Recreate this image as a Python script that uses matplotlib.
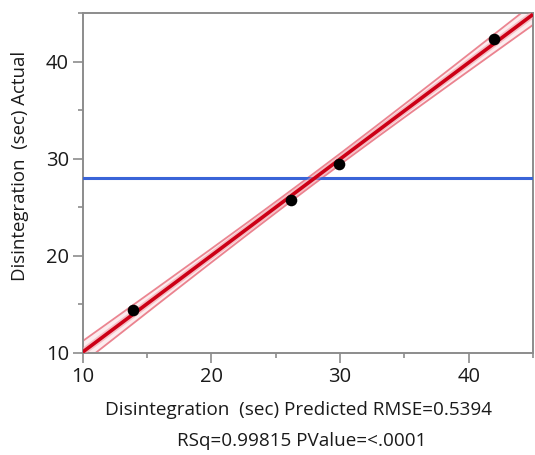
import numpy as np
import matplotlib
matplotlib.use("Agg")
import matplotlib.pyplot as plt

plt.rcParams['font.family'] = ['Open Sans', 'DejaVu Sans']

# Disintegration time (sec): model predictions vs. observed values
predicted = [13.9, 26.2, 29.9, 42.0]
actual = [14.4, 25.7, 29.5, 42.3]
rmse_text = "0.5394"
rsq_text = "0.99815"
pvalue_text = "<.0001"
x_ticks = [10, 20, 30, 40]
y_ticks = [10, 20, 30, 40]

pred = np.array(predicted)
act = np.array(actual)

fig = plt.figure(figsize=(5.35, 4.55), dpi=100)
ax = fig.add_axes([0.1546, 0.2242, 0.8417, 0.7472])

ax.set_xlim(10, 45)
ax.set_ylim(10, 45)

# Fit line of actual on predicted with its confidence curves
slope, intercept = np.polyfit(pred, act, 1)
xs = np.linspace(10, 45, 300)
fit = slope * xs + intercept
n = len(pred)
xbar = pred.mean()
sxx = ((pred - xbar) ** 2).sum()
half = 1.1 * np.sqrt(1.0 / n + (xs - xbar) ** 2 / sxx)

ax.fill_between(xs, fit - half, fit + half, color='#f7c6cc', alpha=0.3, lw=0, zorder=1)
ax.plot(xs, fit + half, color='#e8707e', lw=1.3, alpha=0.85, zorder=2)
ax.plot(xs, fit - half, color='#e8707e', lw=1.3, alpha=0.85, zorder=2)

# Mean of the actual response
ax.axhline(act.mean(), color='#3a64d8', lw=2.2, zorder=3)

ax.plot(xs, fit, color='#f09aa4', lw=5.0, alpha=0.55, solid_capstyle='butt', zorder=4)
ax.plot(xs, fit, color='#cc0016', lw=2.6, solid_capstyle='butt', zorder=5)

ax.scatter(pred, act, s=70, color='black', zorder=6, linewidths=0)

for side in ['left', 'right', 'top', 'bottom']:
    ax.spines[side].set_color('#8c8c8c')
    ax.spines[side].set_linewidth(1.4)

ax.set_xticks(x_ticks)
ax.set_yticks(y_ticks)
ax.set_xticks([15, 25, 35, 45], minor=True)
ax.set_yticks([15, 25, 35, 45], minor=True)
ax.tick_params(which='major', direction='out', length=7, width=1.2, color='#8c8c8c',
               labelsize=14.5, labelcolor='#1a1a1a', pad=3)
ax.tick_params(which='minor', direction='out', length=3.5, width=1.2, color='#8c8c8c')

fig.text(0.558, 1 - 410 / 455, f"Disintegration  (sec) Predicted RMSE={rmse_text}",
         ha='center', va='center', fontsize=13.6, color='#1a1a1a')
fig.text(0.564, 1 - 441 / 455, f"RSq={rsq_text} PValue={pvalue_text}",
         ha='center', va='center', fontsize=13.6, color='#1a1a1a')
fig.text(20 / 535, 1 - 166 / 455, "Disintegration  (sec) Actual",
         ha='center', va='center', rotation=90, fontsize=13.4, color='#1a1a1a')

fig.savefig("out.png", dpi=100, facecolor='white')
